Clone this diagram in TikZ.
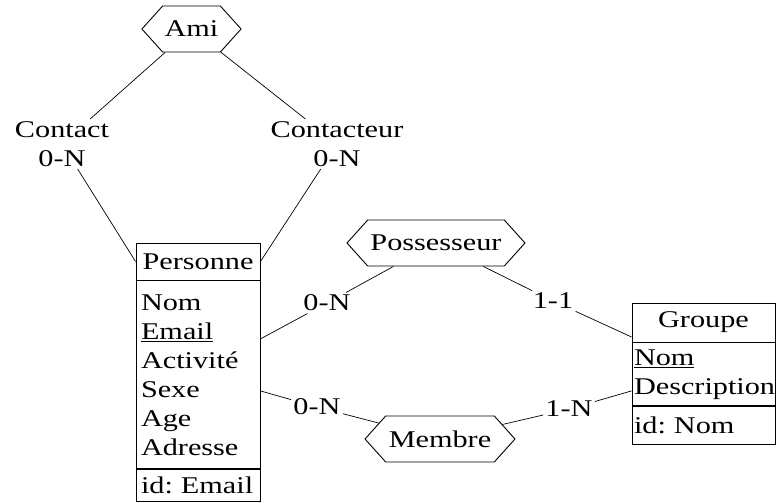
\documentclass[tikz,border=0pt]{standalone}
\usepackage{fontspec}
\setmainfont{Liberation Serif}[FakeStretch=1.26]
\usetikzlibrary{shapes.symbols}

\tikzset{
  rel/.style={draw, signal, signal to=west and east, signal pointer angle=96,
    minimum height=46pt, inner xsep=2pt},
  card/.style={inner sep=2pt, align=center},
  ent/.style={draw, inner xsep=5pt, inner ysep=0pt, align=left},
  link/.style={line width=0.7pt}
}

\begin{document}
\begin{tikzpicture}[x=1pt, y=-1pt, line width=0.9pt, font=\fontsize{24}{29}\selectfont\frenchspacing]
  \useasboundingbox (0,0) rectangle (777,503);
  % relations
  \node[rel, minimum width=97pt] (ami) at (191.5,29) {Ami};
  \node[rel, minimum width=178pt] (poss) at (436,243) {Possesseur};
  \node[rel, minimum width=150pt] (memb) at (440,439) {Membre};
  % Personne
  \node[ent, minimum width=124pt, minimum height=37pt, align=center] (phead) at (198,261.5) {Personne};
  \node[ent, anchor=north, text width=114pt, minimum height=188pt] (pattr) at (phead.south)
    {Nom\\\underline{Email}\\Activité\\Sexe\\Age\\Adresse};
  \node[ent, anchor=north, text width=114pt, minimum height=32pt] (pid) at (pattr.south) {id: Email};
  % Groupe
  \node[ent, minimum width=143pt, minimum height=39pt, align=center] (ghead) at (703.5,322.5) {Groupe};
  \node[ent, inner xsep=2pt, anchor=north, text width=139pt, minimum height=63pt] (gattr) at (ghead.south)
    {\underline{Nom}\\Description};
  \node[ent, inner xsep=2pt, anchor=north, text width=139pt, minimum height=38pt] (gid) at (gattr.south) {id: Nom};
  % cardinalities
  \node[card] (contact) at (62,144) {Contact\\0-N};
  \node[card] (contacteur) at (337,144) {Contacteur\\0-N};
  \node[card] (c1) at (327,303) {0-N};
  \node[card] (c2) at (553,301) {1-1};
  \node[card] (c3) at (317,407) {0-N};
  \node[card] (c4) at (569,409) {1-N};
  % links
  \draw[link] (ami) -- (contact);
  \draw[link] (ami) -- (contacteur);
  \draw[link] (contact) -- (phead.west);
  \draw[link] (contacteur) -- (phead.east);
  \draw[link] (poss) -- (c1);
  \draw[link] (c1) -- ([yshift=36pt]pattr.east);
  \draw[link] (poss) -- (c2);
  \draw[link] (c2) -- ([yshift=-14.5pt]ghead.west);
  \draw[link] ([yshift=-16pt]pattr.east) -- (c3);
  \draw[link] (c3) -- (memb);
  \draw[link] (memb) -- (c4);
  \draw[link] (c4) -- ([yshift=-16.5pt]gattr.west);
\end{tikzpicture}
\end{document}
